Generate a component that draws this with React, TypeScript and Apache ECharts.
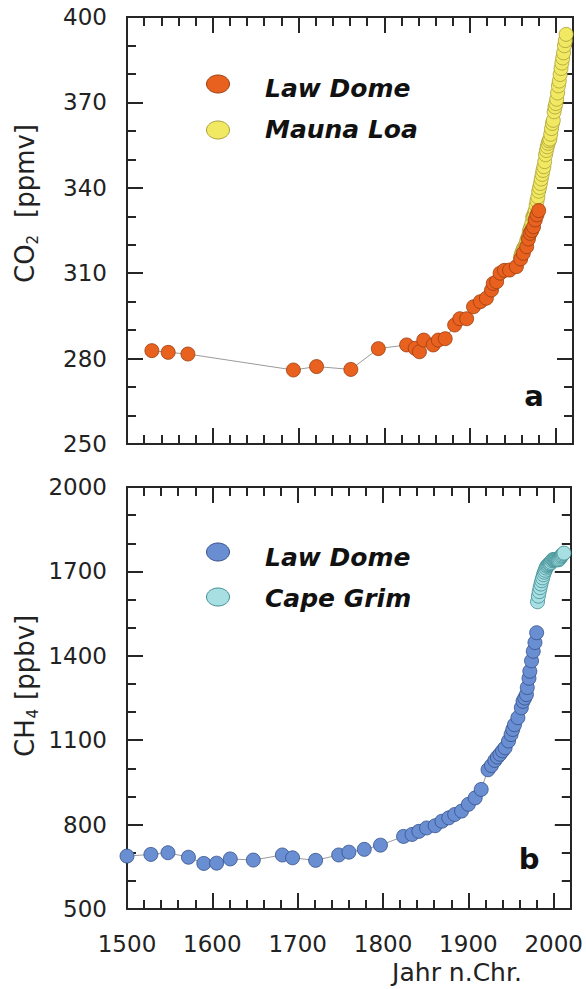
import React, { useEffect, useRef } from 'react';
import * as echarts from 'echarts';

// ---------- data ----------
const xMin = 1500;
const xMax = 2020;
const xLabelStep = 100;
const xMinorStep = 20;

const co2Min = 250;
const co2Max = 400;
const co2Step = 30;

const ch4Min = 500;
const ch4Max = 2000;
const ch4Step = 300;

const co2LawDomeYears = [1529, 1548, 1571, 1694, 1721, 1761, 1793, 1826, 1836, 1841, 1846, 1857, 1863, 1871, 1882, 1888, 1896, 1904, 1912, 1919, 1925, 1927, 1931, 1935, 1940, 1946, 1954, 1959, 1962, 1966, 1968, 1970, 1972, 1974, 1976, 1978, 1980];
const co2LawDomeValues = [282.8, 282.2, 281.6, 276.0, 277.2, 276.2, 283.5, 284.8, 283.6, 282.4, 286.5, 284.8, 286.5, 287.0, 291.8, 294.0, 294.0, 298.2, 300.0, 301.2, 304.1, 306.4, 307.0, 310.0, 311.0, 311.1, 312.3, 315.0, 317.0, 319.3, 322.0, 324.0, 325.0, 326.3, 328.7, 330.5, 332.0];

const maunaLoaYears = [1959, 1960, 1961, 1962, 1963, 1964, 1965, 1966, 1967, 1968, 1969, 1970, 1971, 1972, 1973, 1974, 1975, 1976, 1977, 1978, 1979, 1980, 1981, 1982, 1983, 1984, 1985, 1986, 1987, 1988, 1989, 1990, 1991, 1992, 1993, 1994, 1995, 1996, 1997, 1998, 1999, 2000, 2001, 2002, 2003, 2004, 2005, 2006, 2007, 2008, 2009, 2010, 2011, 2012];
const maunaLoaValues = [316.0, 316.9, 317.6, 318.5, 319.0, 319.6, 320.0, 321.4, 322.2, 323.0, 324.6, 325.7, 326.3, 327.5, 329.7, 330.2, 331.1, 332.0, 333.8, 335.4, 336.8, 338.8, 340.1, 341.5, 343.1, 344.7, 346.1, 347.4, 349.2, 351.6, 353.1, 354.4, 355.6, 356.5, 357.1, 358.8, 360.8, 362.6, 363.7, 366.7, 368.4, 369.6, 371.1, 373.3, 375.8, 377.5, 379.8, 381.9, 383.8, 385.6, 387.4, 389.9, 391.7, 393.9];

const ch4LawDomeYears = [1500, 1528, 1548, 1572, 1590, 1605, 1621, 1648, 1682, 1694, 1721, 1748, 1760, 1778, 1797, 1824, 1834, 1842, 1851, 1861, 1869, 1877, 1884, 1892, 1900, 1908, 1915, 1923, 1927, 1931, 1934, 1937, 1940, 1943, 1947, 1950, 1952, 1954, 1958, 1962, 1964, 1966, 1968, 1969, 1971, 1972, 1974, 1976, 1978, 1980];
const ch4LawDomeValues = [688, 694, 700, 684, 662, 663, 678, 674, 692, 682, 673, 692, 702, 712, 727, 758, 765, 776, 788, 796, 812, 824, 836, 848, 872, 895, 925, 995, 1010, 1028, 1040, 1050, 1062, 1073, 1097, 1120, 1138, 1155, 1180, 1215, 1238, 1250, 1262, 1287, 1320, 1345, 1382, 1416, 1447, 1482];

const capeGrimYears = [1981, 1982, 1983, 1984, 1985, 1986, 1987, 1988, 1989, 1990, 1991, 1992, 1993, 1994, 1995, 1996, 1997, 1998, 1999, 2000, 2001, 2002, 2003, 2004, 2005, 2006, 2007, 2008, 2009, 2010, 2011, 2012];
const capeGrimValues = [1592, 1612, 1628, 1642, 1655, 1667, 1677, 1688, 1697, 1704, 1712, 1718, 1721, 1724, 1727, 1729, 1732, 1738, 1742, 1741, 1741, 1742, 1743, 1742, 1741, 1742, 1746, 1751, 1755, 1758, 1762, 1765];

const legendTop = ['Law Dome', 'Mauna Loa'];
const legendBottom = ['Law Dome', 'Cape Grim'];
const xAxisTitle = 'Jahr n.Chr.';

// ---------- styles ----------
const FONT = 'DejaVu Sans';
const AX = '#262626';
const TXT = '#222222';
const ORANGE = '#e8611f';
const ORANGE_EDGE = '#9a3d10';
const YELLOW = '#f2e962';
const YELLOW_EDGE = '#a89e3c';
const BLUE = '#6a8ed2';
const BLUE_EDGE = '#34508a';
const CYAN = '#a8dfe3';
const CYAN_EDGE = '#3f8d92';

const zip = (xs: number[], ys: number[]) => xs.map((x, i) => [x, ys[i]]);

const axisLine = { show: true, onZero: false, lineStyle: { color: AX, width: 2 } };
const majorTick = { show: true, inside: true, length: 16, lineStyle: { color: AX, width: 2 } };
const minorTickX = { show: true, inside: true, length: 9, lineStyle: { color: AX, width: 2 } };

function makeXAxes(gridIndex: number, showLabels: boolean) {
  const base = {
    type: 'value',
    gridIndex,
    min: xMin,
    max: xMax,
    splitLine: { show: false },
    axisLine,
  };
  return [
    {
      ...base,
      position: 'bottom',
      interval: xLabelStep,
      axisTick: majorTick,
      axisLabel: {
        show: showLabels,
        margin: 23,
        fontSize: 23,
        fontFamily: FONT,
        color: TXT,
        formatter: (v: number) => (v % xLabelStep === 0 ? String(v) : ''),
      },
    },
    { ...base, position: 'bottom', interval: xMinorStep, axisTick: minorTickX, axisLabel: { show: false } },
    { ...base, position: 'top', interval: xLabelStep, axisTick: majorTick, axisLabel: { show: false } },
    { ...base, position: 'top', interval: xMinorStep, axisTick: minorTickX, axisLabel: { show: false } },
  ];
}

function makeYAxes(gridIndex: number, min: number, max: number, step: number) {
  const base = {
    type: 'value',
    gridIndex,
    min,
    max,
    interval: step,
    splitLine: { show: false },
    axisLine,
    axisTick: majorTick,
    minorTick: { show: true, splitNumber: 3, length: 9, lineStyle: { color: AX, width: 2 } },
    minorSplitLine: { show: false },
  };
  return [
    {
      ...base,
      position: 'left',
      axisLabel: { show: true, margin: 20, fontSize: 23, fontFamily: FONT, color: TXT, formatter: (v: number) => String(v) },
    },
    { ...base, position: 'right', axisLabel: { show: false } },
  ];
}

function pointSeries(name: string, data: number[][], xi: number, yi: number, fill: string, edge: string, z: number) {
  return {
    type: 'line',
    name,
    xAxisIndex: xi,
    yAxisIndex: yi,
    data,
    z,
    symbol: 'circle',
    symbolSize: 14,
    showSymbol: true,
    lineStyle: { color: '#9a9a9a', width: 1 },
    itemStyle: { color: fill, borderColor: edge, borderWidth: 0.8 },
    emphasis: { disabled: true },
  };
}

function legendGraphic(items: string[], fills: string[], edges: string[], cys: number[], tys: number[]) {
  const els: any[] = [];
  items.forEach((label, i) => {
    els.push({
      type: 'ellipse',
      shape: { cx: 218, cy: cys[i], rx: 11.5, ry: 9 },
      style: { fill: fills[i], stroke: edges[i], lineWidth: 1 },
      z: 100,
    });
    els.push({
      type: 'text',
      x: 265,
      y: tys[i],
      style: {
        text: label,
        fontFamily: FONT,
        fontSize: 25,
        fontWeight: 'bold',
        fontStyle: 'italic',
        fill: '#111111',
        align: 'left',
        verticalAlign: 'middle',
      },
      z: 100,
    });
  });
  return els;
}

function axisName(x: number, y: number, main: string, sub: string, rest: string, restOffset: number) {
  return {
    type: 'group',
    x,
    y,
    rotation: Math.PI / 2,
    children: [
      { type: 'text', x: 0, y: 0, style: { text: main, fontFamily: FONT, fontSize: 26, fill: TXT, align: 'left', verticalAlign: 'middle' } },
      { type: 'text', x: 1.485 * 26, y: 8, style: { text: sub, fontFamily: FONT, fontSize: 15, fill: TXT, align: 'left', verticalAlign: 'middle' } },
      { type: 'text', x: restOffset, y: 0, style: { text: rest, fontFamily: FONT, fontSize: 26, fill: TXT, align: 'left', verticalAlign: 'middle' } },
    ],
  };
}

const option: any = {
  animation: false,
  backgroundColor: '#ffffff',
  textStyle: { fontFamily: FONT },
  grid: [
    { left: 127, top: 17, width: 446, height: 427, containLabel: false },
    { left: 127, top: 487, width: 446, height: 422, containLabel: false },
  ],
  xAxis: [...makeXAxes(0, false), ...makeXAxes(1, true)],
  yAxis: [...makeYAxes(0, co2Min, co2Max, co2Step), ...makeYAxes(1, ch4Min, ch4Max, ch4Step)],
  series: [
    pointSeries('Mauna Loa', zip(maunaLoaYears, maunaLoaValues), 0, 0, YELLOW, YELLOW_EDGE, 2),
    pointSeries('Law Dome', zip(co2LawDomeYears, co2LawDomeValues), 0, 0, ORANGE, ORANGE_EDGE, 3),
    pointSeries('Law Dome CH4', zip(ch4LawDomeYears, ch4LawDomeValues), 4, 2, BLUE, BLUE_EDGE, 3),
    pointSeries('Cape Grim', zip(capeGrimYears, capeGrimValues), 4, 2, CYAN, CYAN_EDGE, 2),
  ],
  graphic: [
    ...legendGraphic(legendTop, [ORANGE, YELLOW], [ORANGE_EDGE, YELLOW_EDGE], [84, 130], [88, 129]),
    ...legendGraphic(legendBottom, [BLUE, CYAN], [BLUE_EDGE, CYAN_EDGE], [552, 597], [557, 598]),
    { type: 'text', x: 534, y: 396, style: { text: 'a', fontFamily: FONT, fontSize: 29, fontWeight: 'bold', fill: '#111', align: 'center', verticalAlign: 'middle' } },
    { type: 'text', x: 529, y: 859, style: { text: 'b', fontFamily: FONT, fontSize: 29, fontWeight: 'bold', fill: '#111', align: 'center', verticalAlign: 'middle' } },
    { type: 'text', x: 457, y: 972, style: { text: xAxisTitle, fontFamily: FONT, fontSize: 25, fill: TXT, align: 'center', verticalAlign: 'middle' } },
    axisName(25, 283, 'CO', '2', '[ppmv]', 65),
    axisName(25, 757, 'CH', '4', '[ppbv]', 57),
  ],
};

export default function App() {
  const ref = useRef<HTMLDivElement>(null);
  useEffect(() => {
    const chart = echarts.init(ref.current as HTMLDivElement, null, { renderer: 'svg' });
    chart.setOption(option);
    return () => chart.dispose();
  }, []);
  return <div ref={ref} style={{ position: 'absolute', left: 0, top: 0, width: 586, height: 989 }} />;
}
